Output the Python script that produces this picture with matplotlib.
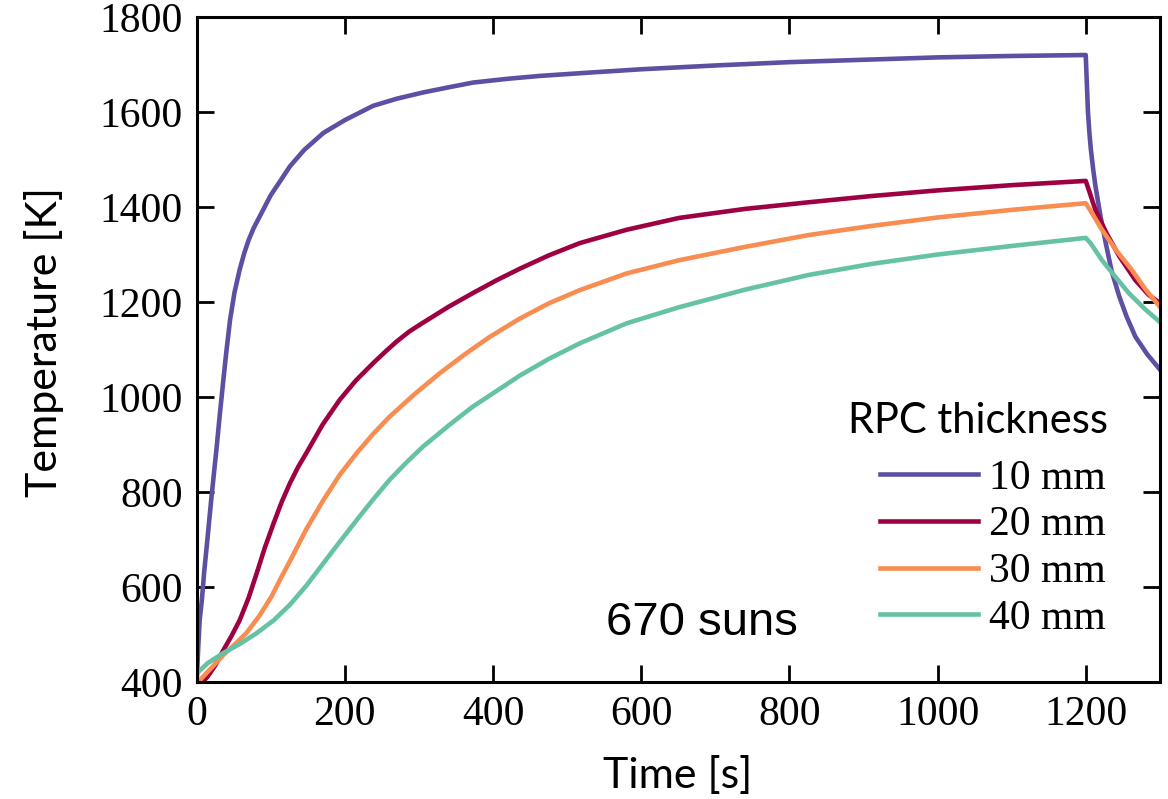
import matplotlib
matplotlib.use("Agg")
import matplotlib.pyplot as plt

# time [s] / temperature [K], one pair of lists per RPC thickness
t_10 = [0, 2, 4, 7, 10, 13.5, 20, 27, 31, 36, 40, 45, 51, 58, 64, 70, 77, 85, 100, 115, 126, 145, 171, 200,
        238, 270, 305, 340, 373, 420, 463, 530, 600, 700, 800, 900, 1000, 1100, 1200,
        1201, 1203, 1205, 1207, 1210, 1213, 1220, 1227, 1235, 1245, 1255, 1267, 1283, 1300]
T_10 = [400, 470, 530, 573, 630, 685, 790, 895, 960, 1036, 1095, 1162, 1220, 1268, 1302, 1330, 1356, 1380,
        1425, 1460, 1486, 1520, 1556, 1583, 1613, 1628, 1641, 1652, 1662, 1670, 1676, 1683, 1690, 1698,
        1705, 1710, 1715, 1718, 1720,
        1680, 1600, 1555, 1520, 1480, 1445, 1380, 1324, 1265, 1213, 1170, 1127, 1090, 1058]

t_20 = [8, 15, 25, 36, 47, 58, 70, 81, 92, 104, 115, 126, 137, 148, 170, 193, 215, 238, 255, 270, 287,
        305, 340, 373, 405, 436, 475, 517, 580, 651, 740, 826, 910, 1000, 1100, 1200,
        1205, 1213, 1228, 1245, 1267, 1285, 1300]
T_20 = [400, 412, 435, 467, 497, 530, 577, 629, 683, 735, 780, 819, 853, 882, 942, 994, 1035, 1071,
        1096, 1117, 1138, 1156, 1190, 1219, 1246, 1270, 1298, 1324, 1352, 1377, 1396, 1410, 1423, 1435,
        1446, 1455,
        1432, 1394, 1345, 1297, 1246, 1215, 1198]

t_30 = [0, 5, 20, 36, 52, 67, 84, 101, 114, 126, 148, 171, 193, 216, 238, 260, 294, 328, 362, 395,
        436, 475, 517, 580, 651, 740, 826, 910, 1000, 1100, 1200,
        1205, 1222, 1242, 1262, 1280, 1300]
T_30 = [395, 405, 430, 457, 480, 503, 538, 580, 620, 655, 722, 783, 836, 882, 922, 958, 1006, 1050,
        1090, 1126, 1165, 1197, 1225, 1260, 1288, 1316, 1341, 1360, 1378, 1394, 1408,
        1396, 1352, 1307, 1268, 1228, 1190]

t_40 = [0, 15, 36, 58, 81, 104, 126, 148, 171, 193, 216, 238, 260, 283, 305, 340, 372, 405, 436,
        475, 517, 580, 651, 740, 826, 910, 1000, 1100, 1200,
        1206, 1222, 1240, 1258, 1280, 1300]
T_40 = [418, 440, 461, 480, 503, 530, 563, 603, 650, 695, 741, 784, 825, 862, 895, 940, 979, 1013,
        1045, 1080, 1113, 1155, 1189, 1226, 1257, 1280, 1300, 1318, 1335,
        1325, 1288, 1253, 1219, 1185, 1158]

labels = ["10 mm", "20 mm", "30 mm", "40 mm"]
colors = ["#5E4FA2", "#9E0142", "#F88D52", "#66C2A5"]
x_ticks = [0, 200, 400, 600, 800, 1000, 1200]
y_ticks = [400, 600, 800, 1000, 1200, 1400, 1600, 1800]

fig = plt.figure(figsize=(11.68, 7.99), dpi=100)
ax = fig.add_axes([0.1684, 0.1464, 0.8246, 0.8323])

series = [(t_10, T_10), (t_20, T_20), (t_30, T_30), (t_40, T_40)]
for (t, T), lab, c in zip(series, labels, colors):
    ax.plot(t, T, color=c, lw=3.3, label=lab, solid_joinstyle="round")

ax.set_xlim(0, 1300)
ax.set_ylim(400, 1800)
ax.set_xticks(x_ticks)
ax.set_yticks(y_ticks)
ax.tick_params(direction="in", top=True, right=True, length=12, width=2, pad=10,
               labelsize=30)
for lbl in ax.get_xticklabels() + ax.get_yticklabels():
    lbl.set_fontfamily("Liberation Serif")
for s in ax.spines.values():
    s.set_linewidth(2.2)

# legend title is drawn as its own text so its gap to the entries can match
fig.text(1108 / 1168, 1 - 433 / 799, "RPC thickness", family="Lato", fontsize=30,
         ha="right", va="baseline")
ax.legend(loc="upper right", frameon=False,
          bbox_to_anchor=(1106 / 1168, 1 - 459 / 799), bbox_transform=fig.transFigure,
          prop={"family": "Liberation Serif", "size": 30},
          handlelength=2.35, handletextpad=0.28, labelspacing=0.2,
          borderpad=0, borderaxespad=0)

ax.text(682, 524, "670 suns", family="Liberation Sans", fontsize=34,
        ha="center", va="center")

fig.text(678 / 1168, 1 - 775 / 799, "Time [s]", family="Lato", fontsize=31,
         ha="center", va="center")
fig.text(44 / 1168, 1 - 342 / 799, "Temperature [K]", family="Lato", fontsize=31,
         ha="center", va="center", rotation=90)

fig.savefig("out.png", dpi=100)
